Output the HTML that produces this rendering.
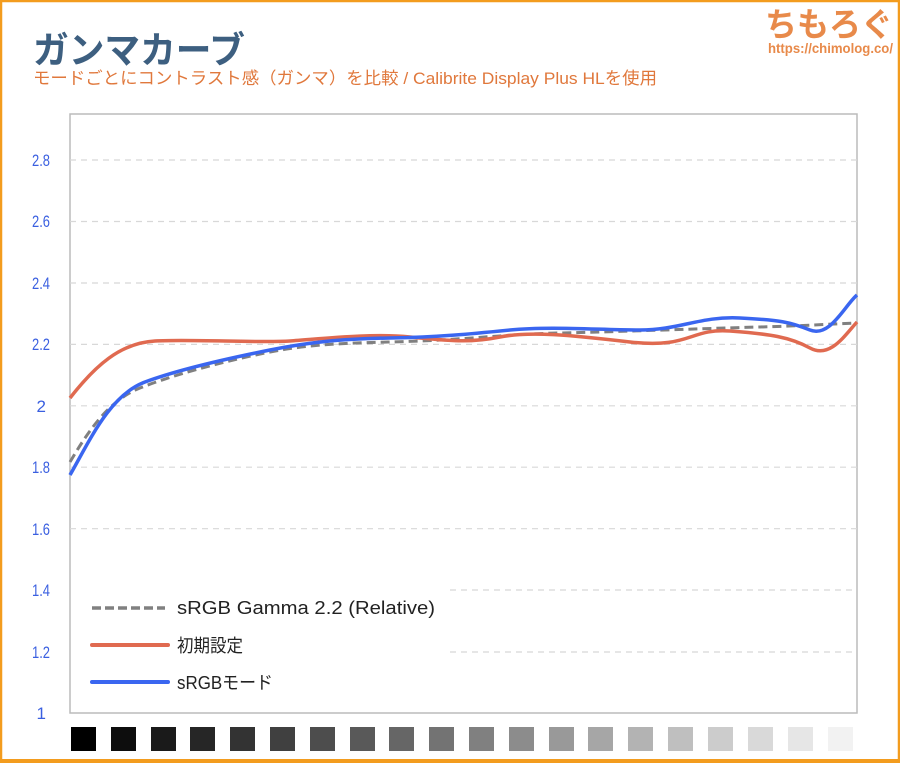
<!DOCTYPE html><html><head><meta charset="utf-8"><style>
body{margin:0;width:900px;height:763px;overflow:hidden;background:#fff;font-family:"Liberation Sans","Noto Sans CJK JP",sans-serif}
</style></head><body>
<svg width="900" height="763" viewBox="0 0 900 763" xmlns="http://www.w3.org/2000/svg" style="display:block">
<rect x="1" y="1" width="898" height="760" fill="#fff" stroke="#f39c1e" stroke-width="2.5"/>
<rect x="0" y="759" width="900" height="4" fill="#f39c1e"/>
<text x="33" y="63" font-size="37" font-weight="bold" fill="#3d5f80" font-family="Noto Sans CJK JP, sans-serif" textLength="212" lengthAdjust="spacingAndGlyphs">ガンマカーブ</text>
<text x="33" y="84" font-size="17" fill="#e0783c" font-family="Liberation Sans, Noto Sans CJK JP, sans-serif" textLength="624" lengthAdjust="spacingAndGlyphs">モードごとにコントラスト感（ガンマ）を比較 / Calibrite Display Plus HLを使用</text>
<text x="893" y="36" text-anchor="end" font-size="33" font-weight="bold" fill="#e88a4a" font-family="Noto Sans CJK JP, sans-serif" textLength="128" lengthAdjust="spacingAndGlyphs">ちもろぐ</text>
<text x="893" y="53" text-anchor="end" font-size="14" font-weight="bold" fill="#e88a4a" textLength="125" lengthAdjust="spacingAndGlyphs">https://chimolog.co/</text>
<rect x="70" y="114" width="787" height="599" fill="#fff" stroke="#bbb" stroke-width="1.5"/>
<g stroke="#d8d8d8" stroke-width="1.2" stroke-dasharray="6,5">
<line x1="70" x2="857" y1="160" y2="160"/><line x1="70" x2="857" y1="221.5" y2="221.5"/><line x1="70" x2="857" y1="283" y2="283"/><line x1="70" x2="857" y1="344.4" y2="344.4"/><line x1="70" x2="857" y1="405.8" y2="405.8"/><line x1="70" x2="857" y1="467.2" y2="467.2"/><line x1="70" x2="857" y1="528.7" y2="528.7"/><line x1="450" x2="857" y1="590" y2="590"/><line x1="450" x2="857" y1="652" y2="652"/>
</g>
<g fill="#3a5fe0" font-size="17" text-anchor="end">
<text x="50" y="166" textLength="18" lengthAdjust="spacingAndGlyphs">2.8</text><text x="50" y="227" textLength="18" lengthAdjust="spacingAndGlyphs">2.6</text><text x="50" y="289" textLength="18" lengthAdjust="spacingAndGlyphs">2.4</text><text x="50" y="350" textLength="18" lengthAdjust="spacingAndGlyphs">2.2</text><text x="46" y="412">2</text><text x="50" y="473" textLength="18" lengthAdjust="spacingAndGlyphs">1.8</text><text x="50" y="535" textLength="18" lengthAdjust="spacingAndGlyphs">1.6</text><text x="50" y="596" textLength="18" lengthAdjust="spacingAndGlyphs">1.4</text><text x="50" y="658" textLength="18" lengthAdjust="spacingAndGlyphs">1.2</text><text x="46" y="719">1</text>
</g>
<path d="M70,462 C90,428 110,400 140,388 S220,362 270,352 S370,343 420,341 S510,334 560,333 S720,328 760,327 S830,324 857,323" fill="none" stroke="#808080" stroke-width="3" stroke-dasharray="9,5"/>
<path d="M70,398 C95,366 120,343 155,341 S260,343 290,341 S370,333 410,337 S470,343 500,337 S570,335 630,342 S690,328 730,331 S790,337 810,348 S845,335 857,322" fill="none" stroke="#e06a50" stroke-width="3.5"/>
<path d="M70,475 C90,440 110,395 145,382 S230,358 270,350 S340,339 390,338 S470,334 510,330 S600,330 640,330 S700,316 740,318 S790,322 810,330 S845,305 857,295" fill="none" stroke="#3a66f0" stroke-width="3.5"/>
<line x1="92" x2="165" y1="608" y2="608" stroke="#808080" stroke-width="3.5" stroke-dasharray="9,4"/>
<line x1="92" x2="168" y1="645" y2="645" stroke="#e06a50" stroke-width="4" stroke-linecap="round"/>
<line x1="92" x2="168" y1="682" y2="682" stroke="#3a66f0" stroke-width="4" stroke-linecap="round"/>
<g font-size="18" fill="#222"><text x="177" y="614" textLength="258" lengthAdjust="spacingAndGlyphs">sRGB Gamma 2.2 (Relative)</text><text x="177" y="652" textLength="66" lengthAdjust="spacingAndGlyphs">初期設定</text><text x="177" y="689" textLength="96" lengthAdjust="spacingAndGlyphs">sRGBモード</text></g>
<g>
<rect x="71" y="727" width="25" height="24" fill="#000"/><rect x="111" y="727" width="25" height="24" fill="#0d0d0d"/><rect x="151" y="727" width="25" height="24" fill="#1a1a1a"/><rect x="190" y="727" width="25" height="24" fill="#262626"/><rect x="230" y="727" width="25" height="24" fill="#333"/><rect x="270" y="727" width="25" height="24" fill="#404040"/><rect x="310" y="727" width="25" height="24" fill="#4d4d4d"/><rect x="350" y="727" width="25" height="24" fill="#595959"/><rect x="389" y="727" width="25" height="24" fill="#666"/><rect x="429" y="727" width="25" height="24" fill="#737373"/><rect x="469" y="727" width="25" height="24" fill="#808080"/><rect x="509" y="727" width="25" height="24" fill="#8c8c8c"/><rect x="549" y="727" width="25" height="24" fill="#999"/><rect x="588" y="727" width="25" height="24" fill="#a6a6a6"/><rect x="628" y="727" width="25" height="24" fill="#b3b3b3"/><rect x="668" y="727" width="25" height="24" fill="#bfbfbf"/><rect x="708" y="727" width="25" height="24" fill="#ccc"/><rect x="748" y="727" width="25" height="24" fill="#d9d9d9"/><rect x="788" y="727" width="25" height="24" fill="#e6e6e6"/><rect x="828" y="727" width="25" height="24" fill="#f2f2f2"/>
</g>
</svg>
</body></html>
